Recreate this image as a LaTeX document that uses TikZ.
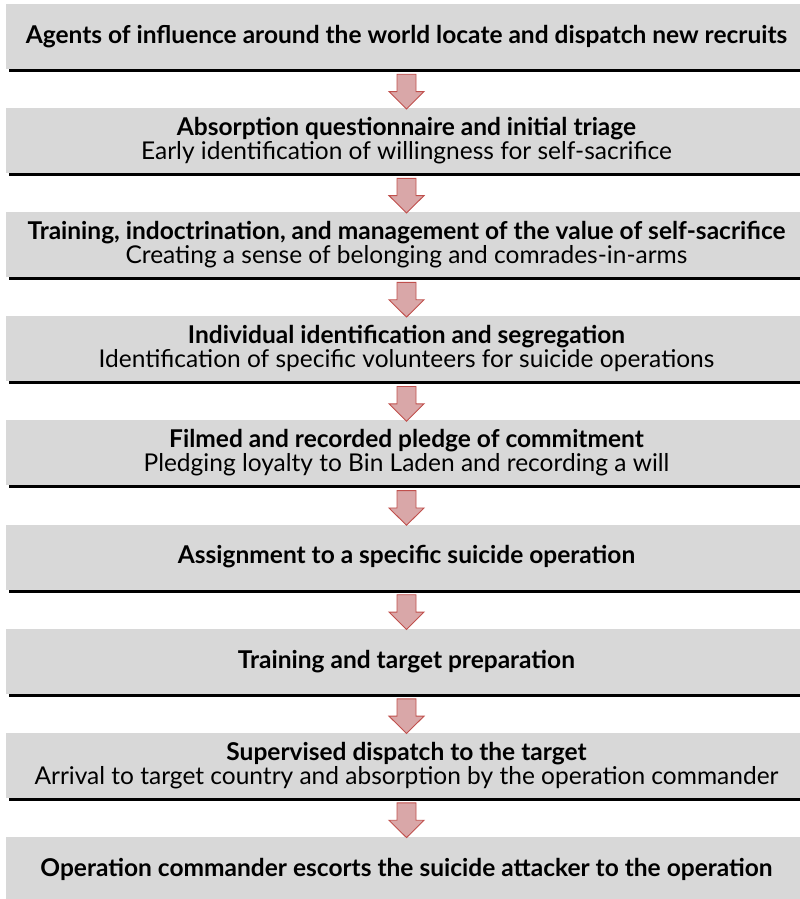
\documentclass[tikz,border=0pt]{standalone}
\usepackage{fontspec}
\setmainfont{Lato}
\usetikzlibrary{calc,shadows}
\definecolor{boxgray}{HTML}{D8D8D8}
\definecolor{arrfill}{HTML}{D9A7A8}
\definecolor{arrdraw}{HTML}{C0504D}
\tikzset{
  stepbox/.style={fill=boxgray, draw=none, minimum width=801pt, minimum height=65pt,
    inner sep=0pt, align=center, font=\fontsize{24.5}{24}\selectfont,
    drop shadow={shadow xshift=3pt, shadow yshift=-3pt, fill=black, opacity=1}},
  lastbox/.style={fill=boxgray, draw=none, minimum width=801pt, minimum height=65pt,
    inner sep=0pt, align=center, font=\fontsize{24.5}{24}\selectfont},
  blockarr/.style={fill=arrfill, draw=arrdraw, line width=0.9pt, line join=miter}
}
\newcommand\flowarrow[2]{%
  \draw[blockarr] let \p1=(#1.south), \p2=(#2.north) in
    (\x1-9.5pt,\y1-5pt) -- (\x1+9.5pt,\y1-5pt) -- (\x1+9.5pt,{(\y1+\y2)/2-3pt})
    -- (\x1+17.5pt,{(\y1+\y2)/2-3pt}) -- (\x1,\y2-1pt)
    -- (\x1-17.5pt,{(\y1+\y2)/2-3pt}) -- (\x1-9.5pt,{(\y1+\y2)/2-3pt}) -- cycle;}
\begin{document}
\begin{tikzpicture}[x=1pt,y=-1pt]
\useasboundingbox (0,0) rectangle (800,899);
\node[stepbox] (b1) at (406.5,36.5) {\textbf{Agents of influence around the world locate and dispatch new recruits}};
\node[stepbox] (b2) at (406.5,140.6) {\textbf{Absorption questionnaire and initial triage}\\Early identification of willingness for self-sacrifice};
\node[stepbox] (b3) at (406.5,244.7) {\textbf{Training, indoctrination, and management of the value of self-sacrifice}\\Creating a sense of belonging and comrades-in-arms};
\node[stepbox] (b4) at (406.5,348.8) {\textbf{Individual identification and segregation}\\Identification of specific volunteers for suicide operations};
\node[stepbox] (b5) at (406.5,452.9) {\textbf{Filmed and recorded pledge of commitment}\\Pledging loyalty to Bin Laden and recording a will};
\node[stepbox] (b6) at (406.5,557.0) {\textbf{Assignment to a specific suicide operation}};
\node[stepbox] (b7) at (406.5,661.1) {\textbf{Training and target preparation}};
\node[stepbox] (b8) at (406.5,765.2) {\textbf{Supervised dispatch to the target}\\Arrival to target country and absorption by the operation commander};
\node[lastbox] (b9) at (406.5,869.3) {\textbf{Operation commander escorts the suicide attacker to the operation}};
\flowarrow{b1}{b2}
\flowarrow{b2}{b3}
\flowarrow{b3}{b4}
\flowarrow{b4}{b5}
\flowarrow{b5}{b6}
\flowarrow{b6}{b7}
\flowarrow{b7}{b8}
\flowarrow{b8}{b9}
\end{tikzpicture}
\end{document}
